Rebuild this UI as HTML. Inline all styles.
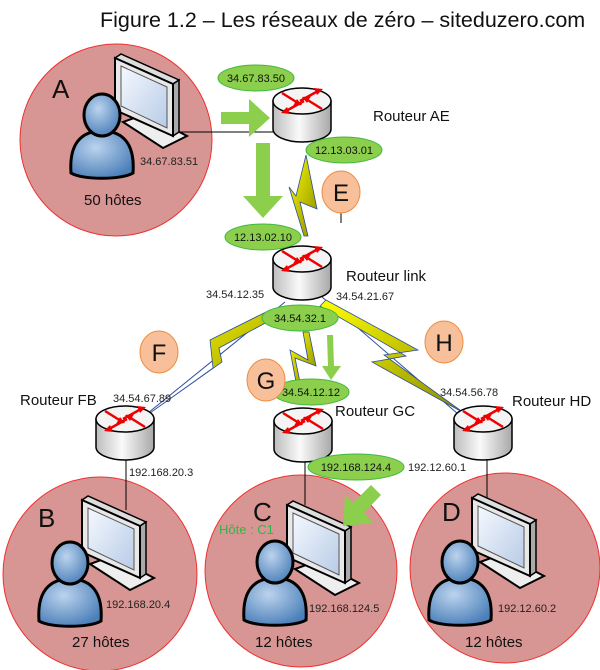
<!DOCTYPE html>
<html><head><meta charset="utf-8"><style>
html,body{margin:0;padding:0;background:#fff;}
svg{display:block;font-family:"Liberation Sans",sans-serif;}
</style></head><body>
<svg width="600" height="670" viewBox="0 0 600 670" xmlns="http://www.w3.org/2000/svg">
<defs>
<linearGradient id="rg" x1="0" x2="1"><stop offset="0" stop-color="#bdbdbd"/><stop offset="0.45" stop-color="#fafafa"/><stop offset="1" stop-color="#a8a8a8"/></linearGradient>
<radialGradient id="pg" cx="0.4" cy="0.35" r="0.7"><stop offset="0" stop-color="#bcd3ee"/><stop offset="1" stop-color="#4a7fb8"/></radialGradient>
<linearGradient id="sg" x1="0" y1="0" x2="1" y2="1"><stop offset="0" stop-color="#f5f9ff"/><stop offset="1" stop-color="#b8cbe6"/></linearGradient>
<linearGradient id="yb" x1="0" y1="0" x2="1" y2="1"><stop offset="0" stop-color="#ffff00"/><stop offset="1" stop-color="#8a8a00"/></linearGradient>
<g id="router">
<path d="M-29,-14 L-29,14 A29,13 0 0 0 29,14 L29,-14 Z" fill="url(#rg)" stroke="#000" stroke-width="1.5"/>
<ellipse cx="0" cy="-14" rx="29" ry="13" fill="#f4f4f4" stroke="#000" stroke-width="1.5"/>
<g stroke="#e00" stroke-width="2.5" fill="#e00">
<line x1="-20" y1="-22" x2="-4" y2="-12"/><polygon points="0,-10 -9,-9 -5,-16" stroke="none"/>
<line x1="20" y1="-6" x2="4" y2="-16"/><polygon points="0,-18 9,-19 5,-12" stroke="none"/>
<line x1="-2" y1="-14" x2="16" y2="-24"/><polygon points="21,-26 12,-27 15,-20" stroke="none"/>
<line x1="2" y1="-14" x2="-16" y2="-4"/><polygon points="-21,-2 -12,-1 -15,-8" stroke="none"/>
</g>
</g>
<g id="pc">
<polygon points="8,64 48,90 72,78 30,56" fill="#eee" stroke="#000" stroke-width="2"/>
<polygon points="0,0 6,-4 64,22 58,26" fill="#ddd" stroke="#000" stroke-width="1.5"/>
<polygon points="58,26 64,22 64,74 58,78" fill="#aaa" stroke="#000" stroke-width="1.5"/>
<polygon points="0,0 58,26 58,78 0,52" fill="#e8e8e8" stroke="#000" stroke-width="2"/>
<polygon points="6,8 52,29 52,70 6,48" fill="url(#sg)" stroke="#555" stroke-width="1"/>
</g>
<g id="person">
<path d="M-31,58 C-33,30 -22,16 0,16 C22,16 33,30 31,58 C20,65 -20,65 -31,58 Z" fill="url(#pg)" stroke="#000" stroke-width="3"/>
<ellipse cx="0" cy="0" rx="18" ry="21" fill="url(#pg)" stroke="#000" stroke-width="3"/>
</g>
</defs>

<text x="100" y="27" font-size="21.5" fill="#111">Figure 1.2 – Les réseaux de zéro – siteduzero.com</text>

<circle cx="116" cy="140" r="96" fill="#d79593" stroke="#f03030" stroke-width="1"/>
<circle cx="100" cy="574" r="97" fill="#d79593" stroke="#f03030" stroke-width="1"/>
<circle cx="301" cy="571" r="96" fill="#d79593" stroke="#f03030" stroke-width="1"/>
<circle cx="505" cy="568" r="95" fill="#d79593" stroke="#f03030" stroke-width="1"/>

<line x1="180" y1="132" x2="276" y2="132" stroke="#000" stroke-width="1"/>
<line x1="126" y1="460" x2="126" y2="510" stroke="#000" stroke-width="1"/>
<line x1="305" y1="460" x2="305" y2="505" stroke="#000" stroke-width="1"/>
<line x1="487" y1="460" x2="487" y2="500" stroke="#000" stroke-width="1"/>
<line x1="341" y1="203" x2="341" y2="223" stroke="#000" stroke-width="1"/>

<line x1="285" y1="302" x2="148" y2="413" stroke="#2b4f9a" stroke-width="1"/>
<polygon points="282,314 219,348 222,362 150,413 213,368 210,340 270,310" fill="url(#yb)" stroke="#2b4f9a" stroke-width="0.8"/>
<line x1="322" y1="297" x2="465" y2="420" stroke="#2b4f9a" stroke-width="1"/>
<polygon points="326,300 418,350 384,355 464,413 372,362 406,356 320,306" fill="url(#yb)" stroke="#2b4f9a" stroke-width="0.8"/>
<polygon points="303,332 308,360 290,350 296,382 300,382 295,358 316,366 309,332" fill="url(#yb)" stroke="#2b4f9a" stroke-width="0.8"/>
<polygon points="306,155 296,196 289,187 304,236 308,236 300,202 317,209" fill="url(#yb)" stroke="#2b4f9a" stroke-width="0.8"/>

<use href="#router" x="302" y="115"/>
<use href="#router" x="302" y="273"/>
<use href="#router" x="125" y="433"/>
<use href="#router" x="303" y="435"/>
<use href="#router" x="483" y="433"/>

<use href="#pc" x="115" y="58"/>
<use href="#person" x="102" y="115"/>
<use href="#pc" x="82" y="500"/>
<use href="#person" x="70" y="563"/>
<use href="#pc" x="287" y="505"/>
<use href="#person" x="275" y="562"/>
<use href="#pc" x="472" y="498"/>
<use href="#person" x="460" y="562"/>

<polygon points="221,112 249,112 249,99 270,118 249,137 249,124 221,124" fill="#8ccf4d"/>
<polygon points="256,143 270,143 270,196 283,196 263,218 243,196 256,196" fill="#8ccf4d"/>
<polygon points="327,335 333,335 334,366 341,366 331,380 322,366 328,366" fill="#8ccf4d"/>
<polygon points="381,495 371,485 353,503 345,495 343,526 373,523 364,513" fill="#8ccf4d"/>

<g fill="#8ccf4d" stroke="#3fb83f" stroke-width="1">
<ellipse cx="256" cy="78" rx="38" ry="13"/>
<ellipse cx="344" cy="150" rx="38" ry="13"/>
<ellipse cx="263" cy="237" rx="38" ry="13"/>
<ellipse cx="300" cy="318" rx="38" ry="13"/>
<ellipse cx="311" cy="392" rx="38" ry="13"/>
<ellipse cx="356" cy="467" rx="48" ry="13"/>
</g>
<g font-size="11" fill="#111" text-anchor="middle">
<text x="256" y="82">34.67.83.50</text>
<text x="344" y="154">12.13.03.01</text>
<text x="263" y="241">12.13.02.10</text>
<text x="300" y="322">34.54.32.1</text>
<text x="311" y="396">34.54.12.12</text>
<text x="356" y="471">192.168.124.4</text>
</g>

<g fill="#f7c09a" stroke="#f08a3c" stroke-width="1">
<ellipse cx="341" cy="192" rx="19" ry="21"/>
<ellipse cx="159" cy="352" rx="19" ry="21"/>
<ellipse cx="266" cy="380" rx="19" ry="21"/>
<ellipse cx="444" cy="342" rx="19" ry="21"/>
</g>
<g font-size="24" fill="#111" text-anchor="middle">
<text x="341" y="201">E</text>
<text x="159" y="361">F</text>
<text x="266" y="389">G</text>
<text x="444" y="351">H</text>
</g>

<g font-size="26" fill="#111">
<text x="52" y="98">A</text>
<text x="38" y="527">B</text>
<text x="253" y="521">C</text>
<text x="442" y="521">D</text>
</g>

<g font-size="15" fill="#111">
<text x="373" y="121">Routeur AE</text>
<text x="346" y="281">Routeur link</text>
<text x="20" y="405">Routeur FB</text>
<text x="335" y="416">Routeur GC</text>
<text x="512" y="406">Routeur HD</text>
<text x="84" y="205">50 hôtes</text>
<text x="72" y="647">27 hôtes</text>
<text x="255" y="647">12 hôtes</text>
<text x="465" y="647">12 hôtes</text>
</g>
<text x="219" y="534" font-size="13" fill="#2db84a">Hôte : C1</text>

<g font-size="11" fill="#222">
<text x="140" y="165">34.67.83.51</text>
<text x="206" y="298">34.54.12.35</text>
<text x="336" y="300">34.54.21.67</text>
<text x="113" y="402">34.54.67.89</text>
<text x="440" y="396">34.54.56.78</text>
<text x="129" y="476">192.168.20.3</text>
<text x="408" y="471">192.12.60.1</text>
<text x="106" y="608">192.168.20.4</text>
<text x="309" y="612">192.168.124.5</text>
<text x="498" y="612">192.12.60.2</text>
</g>
</svg>
</body></html>
